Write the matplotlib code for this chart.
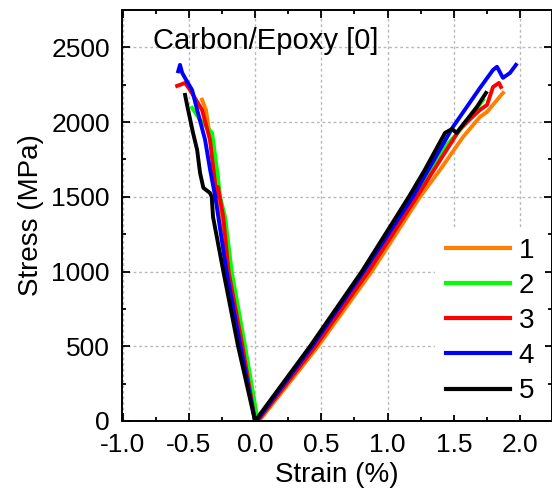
import matplotlib
matplotlib.use('Agg')
import matplotlib.pyplot as plt
from matplotlib.ticker import MultipleLocator

plt.rcParams['font.family'] = ['Liberation Sans', 'DejaVu Sans']

# strain (%) / stress (MPa), compressive branch then tensile branch
strain_1 = [-0.40, -0.37, -0.34, -0.28, -0.19, -0.09, 0.01,
            0.03, 0.475, 0.88, 1.244, 1.395, 1.569, 1.697, 1.75, 1.87]
stress_1 = [2150, 2080, 1900, 1500, 1000, 500, 0,
            0, 500, 1000, 1500, 1680, 1901, 2035, 2068, 2195]

strain_2 = [-0.475, -0.415, -0.324, -0.28, -0.264, -0.226, -0.176, -0.075, 0.02,
            0.02, 0.44, 0.835, 1.20, 1.45, 1.60, 1.72]
stress_2 = [2095, 2015, 1928, 1633, 1500, 1365, 1000, 500, 0,
            0, 500, 1000, 1500, 1850, 2000, 2149]

strain_3 = [-0.588, -0.528, -0.49, -0.40, -0.34, -0.29, -0.28, -0.24, -0.20, -0.095, 0.0,
            0.02, 0.455, 0.855, 1.22, 1.55, 1.697, 1.75, 1.795, 1.84, 1.855]
stress_3 = [2242, 2262, 2215, 2082, 1881, 1500, 1566, 1365, 1000, 500, 0,
            0, 500, 1000, 1500, 1960, 2082, 2115, 2235, 2262, 2235]

strain_4 = [-0.58, -0.566, -0.55, -0.52, -0.475, -0.437, -0.377, -0.339, -0.30, -0.215, -0.11, 0.0,
            0.01, 0.43, 0.82, 1.19, 1.493, 1.697, 1.795, 1.825, 1.87, 1.923, 1.968]
stress_4 = [2340, 2383, 2330, 2282, 2215, 2082, 1881, 1680, 1500, 1000, 500, 0,
            0, 500, 1000, 1500, 1968, 2229, 2349, 2370, 2296, 2329, 2383]

strain_5 = [-0.528, -0.513, -0.468, -0.437, -0.415, -0.39, -0.34, -0.327, -0.317, -0.239, -0.128, 0.0,
            0.0, 0.415, 0.805, 1.16, 1.28, 1.433, 1.486, 1.52, 1.674, 1.742]
stress_5 = [2182, 2115, 1928, 1814, 1660, 1560, 1526, 1500, 1365, 1000, 500, 0,
            0, 500, 1000, 1500, 1680, 1928, 1954, 1928, 2102, 2195]

labels = ['1', '2', '3', '4', '5']
colors = ['#ff8000', '#00ff00', '#ff0000', '#0000ff', '#000000']

fig = plt.figure(figsize=(5.52, 5.0), dpi=100)
ax = fig.add_axes([122.5 / 552, 79 / 500, 429.5 / 552, 411 / 500])

series = [(strain_1, stress_1), (strain_2, stress_2), (strain_3, stress_3),
          (strain_4, stress_4), (strain_5, stress_5)]
for (x, y), lab, c in zip(series, labels, colors):
    ax.plot(x, y, color=c, lw=2.8, label=lab, solid_joinstyle='round')

ax.set_xlim(-1.0, 2.24)
ax.set_ylim(0, 2750)
ax.xaxis.set_major_locator(MultipleLocator(0.5))
ax.xaxis.set_minor_locator(MultipleLocator(0.25))
ax.yaxis.set_major_locator(MultipleLocator(500))
ax.yaxis.set_minor_locator(MultipleLocator(250))
ax.xaxis.set_major_formatter(plt.FuncFormatter(lambda v, p: f'{v:.1f}'))

ax.tick_params(which='both', direction='in', top=True, right=True, width=1.3)
ax.tick_params(which='major', length=6, labelsize=19)
ax.tick_params(axis='x', which='major', pad=9)
ax.tick_params(axis='y', which='major', pad=9)
ax.tick_params(which='minor', length=3)
for s in ax.spines.values():
    s.set_linewidth(1.4)

ax.grid(True, which='major', color='#b8b8b8', lw=1.0, linestyle=(0, (2, 2)))

ax.set_xlabel('Strain (%)', fontsize=20, labelpad=3)
ax.set_ylabel('Stress (MPa)', fontsize=20, labelpad=5)
ax.text(0.07, 0.958, 'Carbon/Epoxy [0]', transform=ax.transAxes,
        fontsize=21, va='top', ha='left')

leg = ax.legend(loc='lower right', bbox_to_anchor=(0.997, 0.0), fontsize=20,
                frameon=True, fancybox=False, framealpha=1.0, edgecolor='none',
                handlelength=2.3, handletextpad=0.3, labelspacing=0.33,
                borderaxespad=0.2)
for h in leg.get_lines():
    h.set_linewidth(3)

fig.savefig('out.png', dpi=100)
